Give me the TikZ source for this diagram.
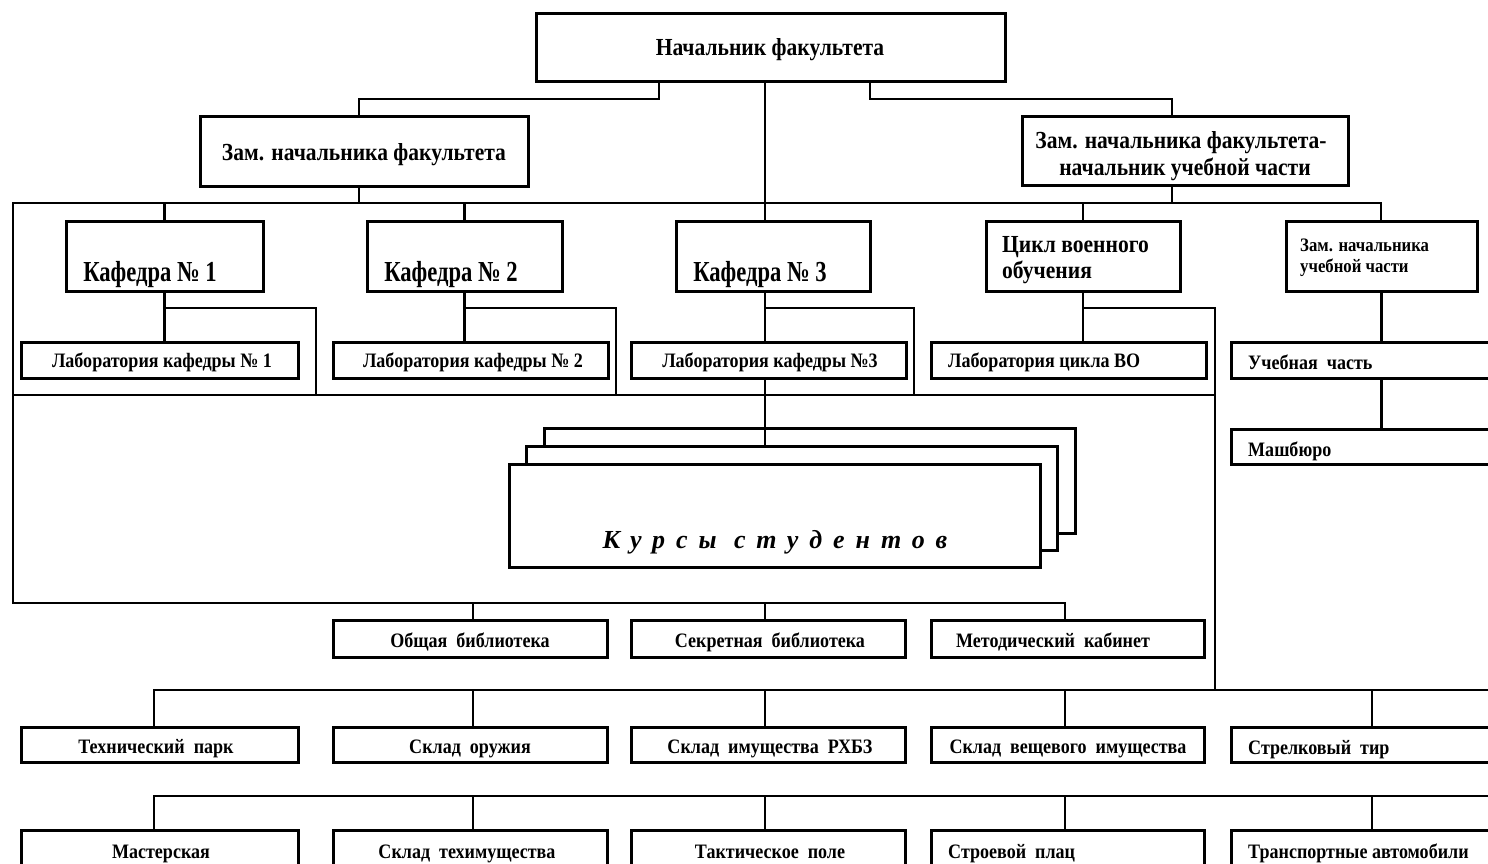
\documentclass[tikz,border=0pt]{standalone}
\usepackage{fontspec}
\setmainfont{Liberation Serif}
\newfontfamily\cond[FakeStretch=0.88]{Liberation Serif}
\newfontfamily\condx[FakeStretch=0.78]{Liberation Serif}
\usetikzlibrary{calc}
\tikzset{
  box/.style={draw, line width=3pt, inner sep=0pt, fill=white},
  ln/.style={line width=2.6pt},
  tbig/.style={inner sep=0pt, anchor=base, font=\cond\bfseries\fontsize{24.5}{27}\selectfont},
  tkaf/.style={inner sep=0pt, anchor=base, font=\condx\bfseries\fontsize{29}{30}\selectfont},
  tmid/.style={inner sep=0pt, anchor=base, font=\cond\bfseries\fontsize{20.5}{24}\selectfont},
  tsmall/.style={inner sep=0pt, anchor=base west, font=\cond\bfseries\fontsize{19}{21}\selectfont},
  tkurs/.style={inner sep=0pt, anchor=base, font=\bfseries\itshape\fontsize{26}{28}\selectfont\addfontfeatures{LetterSpace=42}},
}
\newcommand\mkbox[5]{%
  \node[box, minimum width={(#4-#2)*1pt}, minimum height={(#5-#3)*1pt}] (#1) at ({(#2+#4)/2},{(#3+#5)/2}) {};}
\begin{document}
\begin{tikzpicture}[x=1pt,y=-1pt]
\useasboundingbox (0,0) rectangle (1488,863);
\clip (0,0) rectangle (1488,863);
% boxes
\mkbox{top}{536}{13}{1005}{81}
\mkbox{zl}{200}{116}{528}{186}
\mkbox{zr}{1022}{116}{1348}{185}
\mkbox{k1}{66}{221}{263}{291}
\mkbox{k2}{367}{221}{562}{291}
\mkbox{k3}{676}{221}{870}{291}
\mkbox{cvo}{986}{221}{1180}{291}
\mkbox{zuch}{1286}{221}{1477}{291}
\mkbox{l1}{21}{342}{298}{378}
\mkbox{l2}{333}{342}{608}{378}
\mkbox{l3}{631}{342}{906}{378}
\mkbox{lvo}{931}{342}{1206}{378}
\mkbox{uch}{1231}{342}{1510}{378}
\mkbox{mash}{1231}{429}{1510}{464}
\mkbox{kb}{544}{428}{1075}{533}
\mkbox{km}{526}{446}{1057}{550}
\mkbox{kf}{509}{464}{1040}{567}
\mkbox{ob}{333}{620}{607}{657}
\mkbox{sb}{631}{620}{905}{657}
\mkbox{mk}{931}{620}{1204}{657}
\mkbox{tp}{21}{727}{298}{762}
\mkbox{so}{333}{727}{607}{762}
\mkbox{sr}{631}{727}{905}{762}
\mkbox{sv}{931}{727}{1204}{762}
\mkbox{st}{1231}{727}{1510}{762}
\mkbox{ms}{21}{830}{298}{900}
\mkbox{sti}{333}{830}{607}{900}
\mkbox{tak}{631}{830}{905}{900}
\mkbox{spl}{931}{830}{1204}{900}
\mkbox{tra}{1231}{830}{1510}{900}
% junction coordinates
\coordinate (a1) at (659,99);
\coordinate (a2) at (359,99);
\coordinate (a3) at (870,99);
\coordinate (a4) at (1172,99);
\coordinate (cx) at (765,395);
\coordinate (b1) at (13,203);
\coordinate (b2) at (1381,203);
\coordinate (f1) at (1065,603);
\coordinate (p1) at (473,603);
\coordinate (h1) at (316,308);
\coordinate (h2) at (616,308);
\coordinate (h3) at (914,308);
\coordinate (h4) at (1215,308);
\coordinate (q0) at (154,690);
\coordinate (q1) at (473,690);
\coordinate (q3) at (1065,690);
\coordinate (q4) at (1372,690);
\coordinate (q5) at (1500,690);
\coordinate (s0) at (154,796);
\coordinate (s1) at (473,796);
\coordinate (s3) at (1065,796);
\coordinate (s4) at (1372,796);
\coordinate (s5) at (1500,796);
% connectors
\draw[ln] (top.south -| a1) -- (a1) -- (a2) -- (a2 |- zl.north);
\draw[ln] (top.south -| a3) -- (a3) -- (a4) -- (a4 |- zr.north);
\draw[ln] (top.south -| cx) -- (k3.north -| cx);
\draw[ln] (zl.south -| a2) -- (a2 |- b1);
\draw[ln] (zr.south -| a4) -- (a4 |- b1);
\draw[ln] (zuch.north -| b2) -- (b2) -- (b1) -- (b1 |- f1) -- (f1) -- (f1 |- mk.north);
\draw[ln] (k1.north) -- (k1.north |- b1);
\draw[ln] (k2.north) -- (k2.north |- b1);
\draw[ln] (cvo.north) -- (cvo.north |- b1);
\draw[ln] (k1.south) -- (k1.south |- l1.north);
\draw[ln] (k2.south) -- (k2.south |- l2.north);
\draw[ln] (k3.south -| cx) -- (l3.north -| cx);
\draw[ln] (cvo.south) -- (cvo.south |- lvo.north);
\draw[ln] (k1.south |- h1) -- (h1) -- (h1 |- cx);
\draw[ln] (k2.south |- h2) -- (h2) -- (h2 |- cx);
\draw[ln] (cx |- h3) -- (h3) -- (h3 |- cx);
\draw[ln] (cvo.south |- h4) -- (h4) -- (h4 |- q0);
\draw[ln] (b1 |- cx) -- (h4 |- cx);
\draw[ln] (l3.south -| cx) -- (km.north -| cx);
\draw[ln] (zuch.south) -- (zuch.south |- uch.north);
\draw[ln] (zuch.south |- uch.south) -- (zuch.south |- mash.north);
\draw[ln] (p1) -- (p1 |- ob.north);
\draw[ln] (cx |- f1) -- (cx |- sb.north);
\draw[ln] (q0 |- tp.north) -- (q0) -- (q5);
\draw[ln] (q1) -- (q1 |- so.north);
\draw[ln] (cx |- q0) -- (cx |- sr.north);
\draw[ln] (q3) -- (q3 |- sv.north);
\draw[ln] (q4) -- (q4 |- st.north);
\draw[ln] (s0 |- ms.north) -- (s0) -- (s5);
\draw[ln] (s1) -- (s1 |- sti.north);
\draw[ln] (cx |- s0) -- (cx |- tak.north);
\draw[ln] (s3) -- (s3 |- spl.north);
\draw[ln] (s4) -- (s4 |- tra.north);
% texts
\node[tbig] (ttop) at (770,55) {Начальник факультета};
\node[tbig] (tzl) at (364,160) {Зам. начальника факультета};
\node[tbig] (tzr1) at (1181,148) {Зам. начальника факультета-};
\node[tbig] (tzr2) at (1185,175) {начальник учебной части};
\node[tkaf] (tk1) at (150,281) {Кафедра № 1};
\node[tkaf] (tk2) at (451,281) {Кафедра № 2};
\node[tkaf] (tk3) at (760,281) {Кафедра № 3};
\node[tbig, anchor=base west] (tcvo1) at (1002,252) {Цикл военного};
\node[tbig, anchor=base west] (tcvo2) at (1002,278) {обучения};
\node[tsmall] (tzuch1) at (1300,251) {Зам. начальника};
\node[tsmall] (tzuch2) at (1300,272) {учебной части};
\node[tmid] (tl1) at (162,367) {Лаборатория кафедры № 1};
\node[tmid] (tl2) at (473,367) {Лаборатория кафедры № 2};
\node[tmid] (tl3) at (770,367) {Лаборатория кафедры №3};
\node[tmid, anchor=base west] (tlvo) at (948,367) {Лаборатория цикла ВО};
\node[tmid, anchor=base west] (tuch) at (1248,369) {Учебная\ \ часть};
\node[tmid, anchor=base west] (tmash) at (1248,456) {Машбюро};
\node[tkurs] (tkurs) at (775,548) {Курсы\ студентов};
\node[tmid] (tob) at (470,647) {Общая\ \ библиотека};
\node[tmid] (tsb) at (770,647) {Секретная\ \ библиотека};
\node[tmid] (tmk) at (1053,647) {Методический\ \ кабинет};
\node[tmid] (ttp) at (156,753) {Технический\ \ парк};
\node[tmid] (tso) at (470,753) {Склад\ \ оружия};
\node[tmid] (tsr) at (770,753) {Склад\ \ имущества\ \ РХБЗ};
\node[tmid] (tsv) at (1068,753) {Склад\ \ вещевого\ \ имущества};
\node[tmid, anchor=base west] (tst) at (1248,754) {Стрелковый\ \ тир};
\node[tmid] (tms) at (161,858) {Мастерская};
\node[tmid] (tsti) at (467,858) {Склад\ \ техимущества};
\node[tmid] (ttak) at (770,858) {Тактическое\ \ поле};
\node[tmid, anchor=base west] (tspl) at (948,858) {Строевой\ \ плац};
\node[tmid, anchor=base west] (ttra) at (1248,858) {Транспортные автомобили};
\end{tikzpicture}
\end{document}
